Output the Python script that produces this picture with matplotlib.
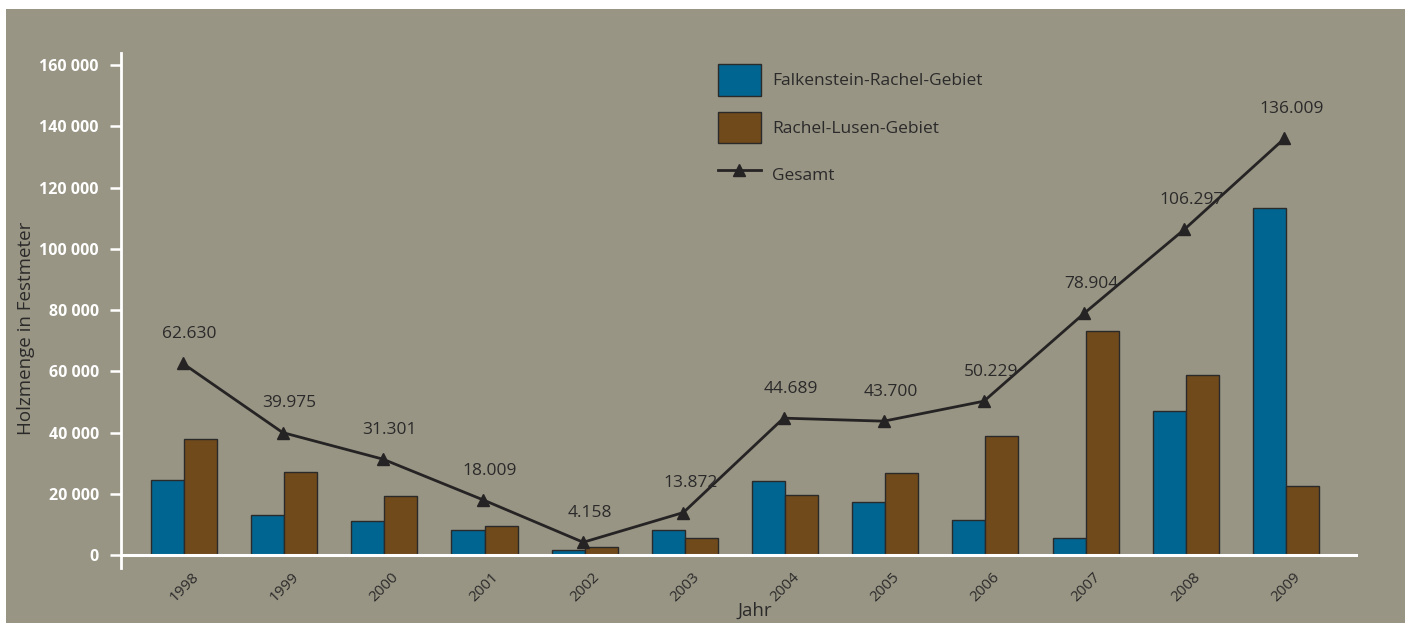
import matplotlib
matplotlib.use("Agg")
import matplotlib.pyplot as plt
from matplotlib.patches import Rectangle, Patch
from matplotlib.lines import Line2D
from matplotlib.ticker import FuncFormatter
import numpy as np

years = ["1998", "1999", "2000", "2001", "2002", "2003", "2004", "2005",
         "2006", "2007", "2008", "2009"]
falkenstein = [24600, 13100, 11100, 8200, 1500, 8100, 24100, 17400, 11300, 5400, 47100, 113200]
rachel_lusen = [37900, 27000, 19400, 9600, 2500, 5500, 19500, 26700, 38900, 73100, 58800, 22600]
gesamt = [62630, 39975, 31301, 18009, 4158, 13872, 44689, 43700, 50229, 78904, 106297, 136009]
yticks = [0, 20000, 40000, 60000, 80000, 100000, 120000, 140000, 160000]
series_names = ["Falkenstein-Rachel-Gebiet", "Rachel-Lusen-Gebiet", "Gesamt"]

BG = "#989584"
BLUE = "#006591"
BROWN = "#714A1C"
DARK = "#262324"
TXT = "#2b2a2a"
FONT = "Open Sans"

W, H = 1410, 623
fig = plt.figure(figsize=(W / 100, H / 100), dpi=100, facecolor="white")
bgrect = Rectangle((6 / W, 0), (1405 - 6) / W, (623 - 9) / H,
                   transform=fig.transFigure, facecolor=BG,
                   edgecolor="none", zorder=-10)
fig.patches.append(bgrect)

ax = fig.add_axes([121 / W, 1 - 568 / H, (1358 - 121) / W, (568 - 53) / H])
ax.set_facecolor("none")
ax.set_zorder(1)

x = np.arange(len(years))
bw = 0.33
ax.bar(x - bw / 2, falkenstein, bw, color=BLUE, edgecolor="#2a2a2a", linewidth=1.0, zorder=2)
ax.bar(x + bw / 2, rachel_lusen, bw, color=BROWN, edgecolor="#2a2a2a", linewidth=1.0, zorder=2)
ax.plot(x - 0.015, gesamt, color=DARK, linewidth=2.0, marker="^", markersize=8.5,
        zorder=4)
for xi, v in zip(x, gesamt):
    ax.annotate(f"{v:,}".replace(",", "."), (xi + 0.055, v), xytext=(0, 21),
                textcoords="offset points", ha="center", va="center",
                fontsize=12.5, color=TXT, family=FONT, zorder=5)

ax.set_xlim(-0.629, 11.719)
ax.set_ylim(-4245, 163920)
ax.axhline(0, color="white", linewidth=2.2, zorder=3)

for s in ["top", "right", "bottom"]:
    ax.spines[s].set_visible(False)
ax.spines["left"].set_color("white")
ax.spines["left"].set_linewidth(2.0)

ax.set_yticks(yticks)
ax.yaxis.set_major_formatter(FuncFormatter(lambda v, p: f"{int(v):,}".replace(",", " ")))
ax.tick_params(axis="y", direction="out", length=8, width=1.8, color="white",
               pad=8, labelcolor="white", labelsize=11.5)
for lab in ax.get_yticklabels():
    lab.set_fontweight("bold")
    lab.set_family(FONT)

ax.set_xticks(x)
ax.set_xticklabels(years, rotation=45, ha="center", va="top", fontsize=11,
                   color=TXT, family=FONT)
ax.tick_params(axis="x", length=0, pad=1)

fig.text(755 / W, 1 - 611 / H, "Jahr", ha="center", va="center", fontsize=13.5,
         color=TXT, family=FONT)
fig.text(26 / W, 1 - 328 / H, "Holzmenge in Festmeter", ha="center", va="center",
         rotation=90, fontsize=13.5, color=TXT, family=FONT)

handles = [Patch(facecolor=BLUE, edgecolor="#2a2a2a", linewidth=1.0),
           Patch(facecolor=BROWN, edgecolor="#2a2a2a", linewidth=1.0),
           Line2D([], [], color=DARK, linewidth=2.0, marker="^", markersize=8)]
fs = 12.5
fs_px = fs * 100 / 72
leg = fig.legend(handles, series_names, loc="upper left",
                 bbox_to_anchor=(718 / W, 1 - 64 / H), frameon=False,
                 borderpad=0, borderaxespad=0, handlelength=43 / fs_px,
                 handleheight=2.45, labelspacing=0.9, handletextpad=0.65,
                 prop={"family": FONT, "size": fs})
for t in leg.get_texts():
    t.set_color(TXT)

fig.savefig("out.png", dpi=100, facecolor="white")
